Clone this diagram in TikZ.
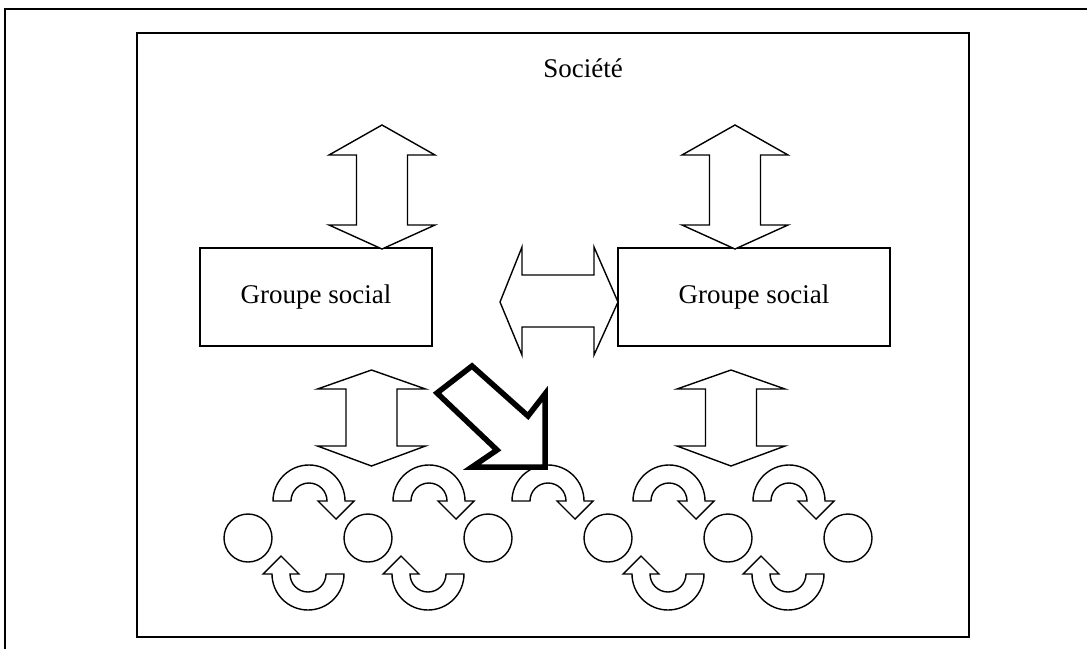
\documentclass[tikz,border=0pt]{standalone}
\usepackage{fontspec}
\setmainfont{Liberation Serif}
\newcommand\vdbl[7]{% cx, ytop, yback1, yback2, ybottom, head half-width, shaft half-width
  \draw[blk] (#1,#2) -- ({#1+#6},#3) -- ({#1+#7},#3) -- ({#1+#7},#4) -- ({#1+#6},#4) -- (#1,#5)
    -- ({#1-#6},#4) -- ({#1-#7},#4) -- ({#1-#7},#3) -- ({#1-#6},#3) -- cycle;}
\newcommand\uparc[1]{%
  \draw[blk] ({#1-36},501) arc[start angle=180,end angle=0,radius=36pt] -- ({#1+45},501)
    -- ({#1+27},519) -- ({#1+9},501) -- ({#1+18},501) arc[start angle=0,end angle=180,radius=18pt] -- cycle;}
\newcommand\lowarc[1]{%
  \draw[blk] ({#1+36},574) arc[start angle=0,end angle=-180,radius=36pt] -- ({#1-45},574)
    -- ({#1-27},556) -- ({#1-9},574) -- ({#1-18},574) arc[start angle=180,end angle=360,radius=18pt] -- cycle;}
\begin{document}
\begin{tikzpicture}[x=1pt,y=-1pt,
  frame/.style={line width=1.4pt},
  blk/.style={draw, line width=1.4pt, fill=white, line join=miter},
  box/.style={draw, line width=1.4pt, fill=white, inner sep=0pt, font=\fontsize{27}{31}\selectfont},
  ring/.style={draw, circle, line width=1.4pt, minimum size=48pt, inner sep=0pt},
  bigarrow/.style={draw, line width=5.5pt, line join=miter}]
\useasboundingbox (0,0) rectangle (1087,649);
\fill[white] (0,0) rectangle (1087,649);
% outer frame (only top and left visible)
\draw[frame] (5,649) -- (5,9) -- (1087,9);
% inner frame
\draw[frame] (137,33) rectangle (969,637);
\node[font=\fontsize{27}{31}\selectfont, anchor=base] (soc) at (583,77) {Société};
% group boxes
\node[box, minimum width=232pt, minimum height=98pt] (g1) at (316,297) {Groupe social};
\node[box, minimum width=272pt, minimum height=98pt] (g2) at (754,297) {Groupe social};
% upper vertical double arrows
\vdbl{382}{125}{155}{225}{249}{53}{25.5}
\vdbl{735}{125}{155}{225}{249}{53}{25.5}
% horizontal double arrow
\draw[blk] (500,302) -- (522,247) -- (522,275) -- (594,275) -- (594,247) -- (618,302)
  -- (594,355) -- (594,327) -- (522,327) -- (522,355) -- cycle;
% lower vertical double arrows
\vdbl{371.5}{370}{389}{446}{466}{54}{25.5}
\vdbl{731}{370}{389}{446}{466}{54}{25.5}
% individuals
\foreach \i/\x in {1/248,2/368,3/488,4/608,5/728,6/848}
  \node[ring] (c\i) at (\x,538) {};
% circular arrows
\foreach \x in {309,429,548,669,789} {\uparc{\x}}
\foreach \x in {308,428,668,788} {\lowarc{\x}}
% bold diagonal arrow
\draw[bigarrow] (472,366) -- (437,393) -- (497,450) -- (472,467) -- (545,467) -- (545,394) -- (528,416) -- cycle;
\end{tikzpicture}
\end{document}
